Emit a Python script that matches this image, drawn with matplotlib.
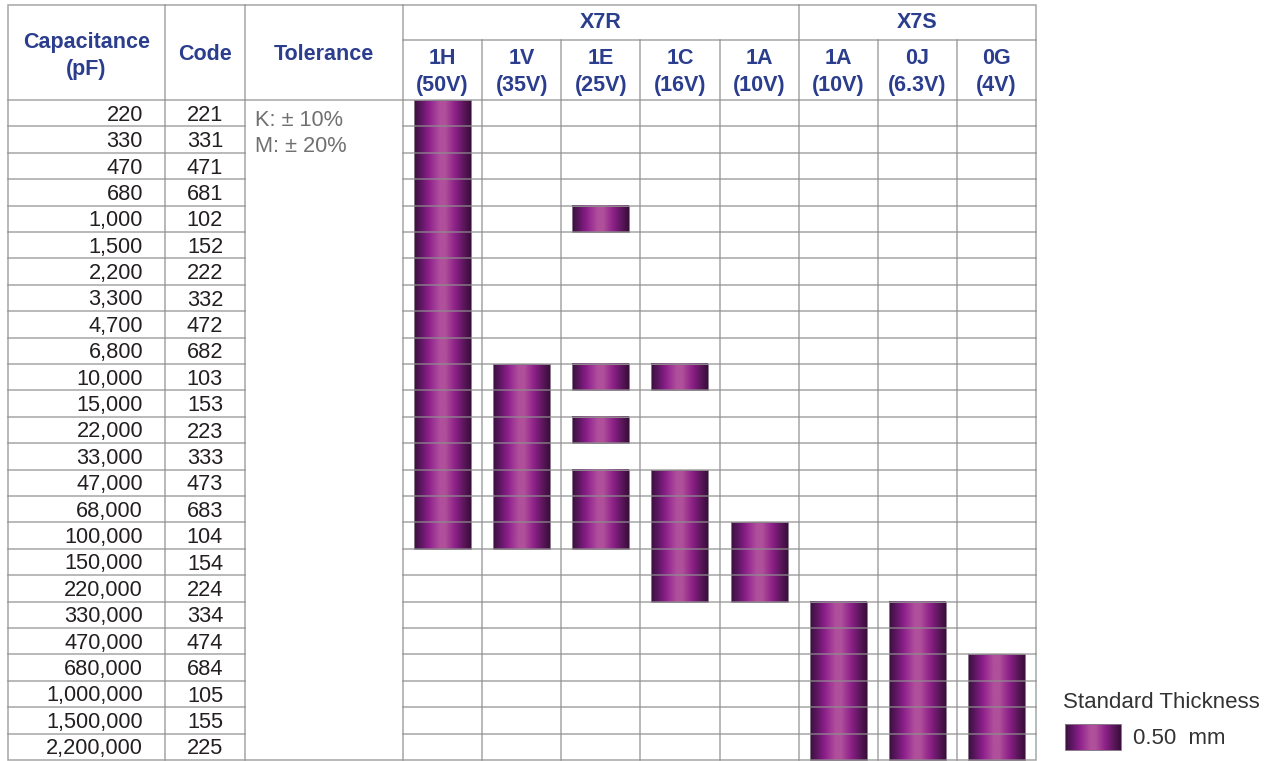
import numpy as np
import matplotlib.pyplot as plt
from matplotlib.colors import LinearSegmentedColormap
from matplotlib.patches import Rectangle

plt.rcParams['font.family'] = ['Liberation Sans', 'DejaVu Sans']

# data
capacitance = ["220", "330", "470", "680", "1,000", "1,500", "2,200", "3,300", "4,700", "6,800",
               "10,000", "15,000", "22,000", "33,000", "47,000", "68,000", "100,000", "150,000",
               "220,000", "330,000", "470,000", "680,000", "1,000,000", "1,500,000", "2,200,000"]
codes = ["221", "331", "471", "681", "102", "152", "222", "332", "472", "682",
         "103", "153", "223", "333", "473", "683", "104", "154",
         "224", "334", "474", "684", "105", "155", "225"]
tolerances = ["K: \u00b1 10%", "M: \u00b1 20%"]
group_names = ["X7R", "X7S"]
group_sizes = [5, 3]
volt_codes = ["1H", "1V", "1E", "1C", "1A", "1A", "0J", "0G"]
volt_values = ["50V", "35V", "25V", "16V", "10V", "10V", "6.3V", "4V"]

avail_1H = ["221", "331", "471", "681", "102", "152", "222", "332", "472", "682",
            "103", "153", "223", "333", "473", "683", "104"]
avail_1V = ["103", "153", "223", "333", "473", "683", "104"]
avail_1E = ["102", "103", "223", "473", "683", "104"]
avail_1C = ["103", "473", "683", "104", "154", "224"]
avail_1A_x7r = ["104", "154", "224"]
avail_1A_x7s = ["334", "474", "684", "105", "155", "225"]
avail_0J = ["334", "474", "684", "105", "155", "225"]
avail_0G = ["684", "105", "155", "225"]
availability = [avail_1H, avail_1V, avail_1E, avail_1C, avail_1A_x7r,
                avail_1A_x7s, avail_0J, avail_0G]
legend_title = "Standard Thickness"
legend_label = "0.50  mm"

# layout (pixels)
LEFT, TOP, BOTTOM = 8, 5, 760
X_CODE, X_TOL, X_V0, RIGHT = 165, 245, 403, 1036
Y_SUB, Y_HEAD = 40, 100
n_rows = len(capacitance)
n_cols = len(volt_codes)
row_h = (BOTTOM - Y_HEAD) / n_rows
col_w = (RIGHT - X_V0) / n_cols
bar_w = 57

navy = '#2b3d8d'
txt = '#231f20'
grid_c = '#8f8f8f'

grad = LinearSegmentedColormap.from_list('cap', [
    (0.0, '#3a0f3e'), (0.12, '#5c1760'), (0.26, '#8d1f8c'), (0.45, '#b04f9c'),
    (0.55, '#b0509a'), (0.72, '#8e2189'), (0.88, '#5a165a'), (1.0, '#3a0d3c')])
gimg = np.linspace(0, 1, 256).reshape(1, -1)

fig = plt.figure(figsize=(12.64, 7.61), dpi=100)
ax = fig.add_axes([0, 0, 1, 1])
ax.set_xlim(0, 1264)
ax.set_ylim(761, 0)
ax.axis('off')


def gbar(x0, y0, w, h):
    ax.imshow(gimg, cmap=grad, aspect='auto', extent=(x0, x0 + w, y0 + h, y0),
              interpolation='bilinear', zorder=2)
    ax.add_patch(Rectangle((x0, y0), w, h, fill=False, ec='#8a7a8a', lw=0.7, zorder=3))


# bars
for j, avail in enumerate(availability):
    idx = sorted(codes.index(c) for c in avail)
    runs = []
    for i in idx:
        if runs and runs[-1][-1] == i - 1:
            runs[-1].append(i)
        else:
            runs.append([i])
    x0 = X_V0 + j * col_w + (col_w - bar_w) / 2
    for r in runs:
        gbar(x0, Y_HEAD + r[0] * row_h, bar_w, len(r) * row_h)

# grid lines
lw = 1.1
kw = dict(color=grid_c, lw=lw, alpha=0.8, zorder=4, solid_capstyle='projecting')
ax.add_patch(Rectangle((LEFT, TOP), RIGHT - LEFT, BOTTOM - TOP, fill=False,
                       ec=grid_c, lw=lw, alpha=0.8, zorder=4))
for x in [X_CODE, X_TOL, X_V0]:
    ax.plot([x, x], [TOP, BOTTOM], **kw)
ax.plot([LEFT, RIGHT], [Y_HEAD, Y_HEAD], **kw)
ax.plot([X_V0, RIGHT], [Y_SUB, Y_SUB], **kw)
for j in range(1, n_cols):
    x = X_V0 + j * col_w
    y_start = TOP if j in np.cumsum(group_sizes) else Y_SUB
    ax.plot([x, x], [y_start, BOTTOM], **kw)
for i in range(1, n_rows):
    y = Y_HEAD + i * row_h
    ax.plot([LEFT, X_TOL], [y, y], **kw)
    ax.plot([X_V0, RIGHT], [y, y], **kw)

# header text
hk = dict(color=navy, fontsize=15.5, fontweight='bold', ha='center', va='center', zorder=5)
ax.text((LEFT + X_CODE) / 2, 56, "Capacitance\n(pF)", linespacing=1.35, **hk)
ax.text((X_CODE + X_TOL) / 2, 54, "Code", **hk)
ax.text((X_TOL + X_V0) / 2, 54, "Tolerance", **hk)
start = 0
for name, size in zip(group_names, group_sizes):
    xa = X_V0 + start * col_w
    xb = X_V0 + (start + size) * col_w
    ax.text((xa + xb) / 2, 22, name, **hk)
    start += size
for j in range(n_cols):
    xc = X_V0 + (j + 0.5) * col_w
    ax.text(xc, 72, f"{volt_codes[j]}\n({volt_values[j]})", linespacing=1.35, **hk)

# body text
for i in range(n_rows):
    yb = Y_HEAD + (i + 0.5) * row_h + 7.5
    ax.text(X_CODE - 22, yb, capacitance[i], color=txt, fontsize=15.7, ha='right',
            va='baseline', zorder=5)
    ax.text((X_CODE + X_TOL) / 2, yb, codes[i], color=txt, fontsize=15.7, ha='center',
            va='baseline', zorder=5)
for k, t in enumerate(tolerances):
    ax.text(X_TOL + 10, Y_HEAD + (k + 0.5) * row_h + 12.5, t, color='#707070',
            fontsize=15.7, ha='left', va='baseline', zorder=5)

# legend
ax.text(1063, 703, legend_title, color='#333333', fontsize=16, ha='left', va='center')
gbar(1065, 724, 56, 26)
ax.text(1133, 738, legend_label, color='#333333', fontsize=16, ha='left', va='center')

fig.savefig('out.png', dpi=100)
